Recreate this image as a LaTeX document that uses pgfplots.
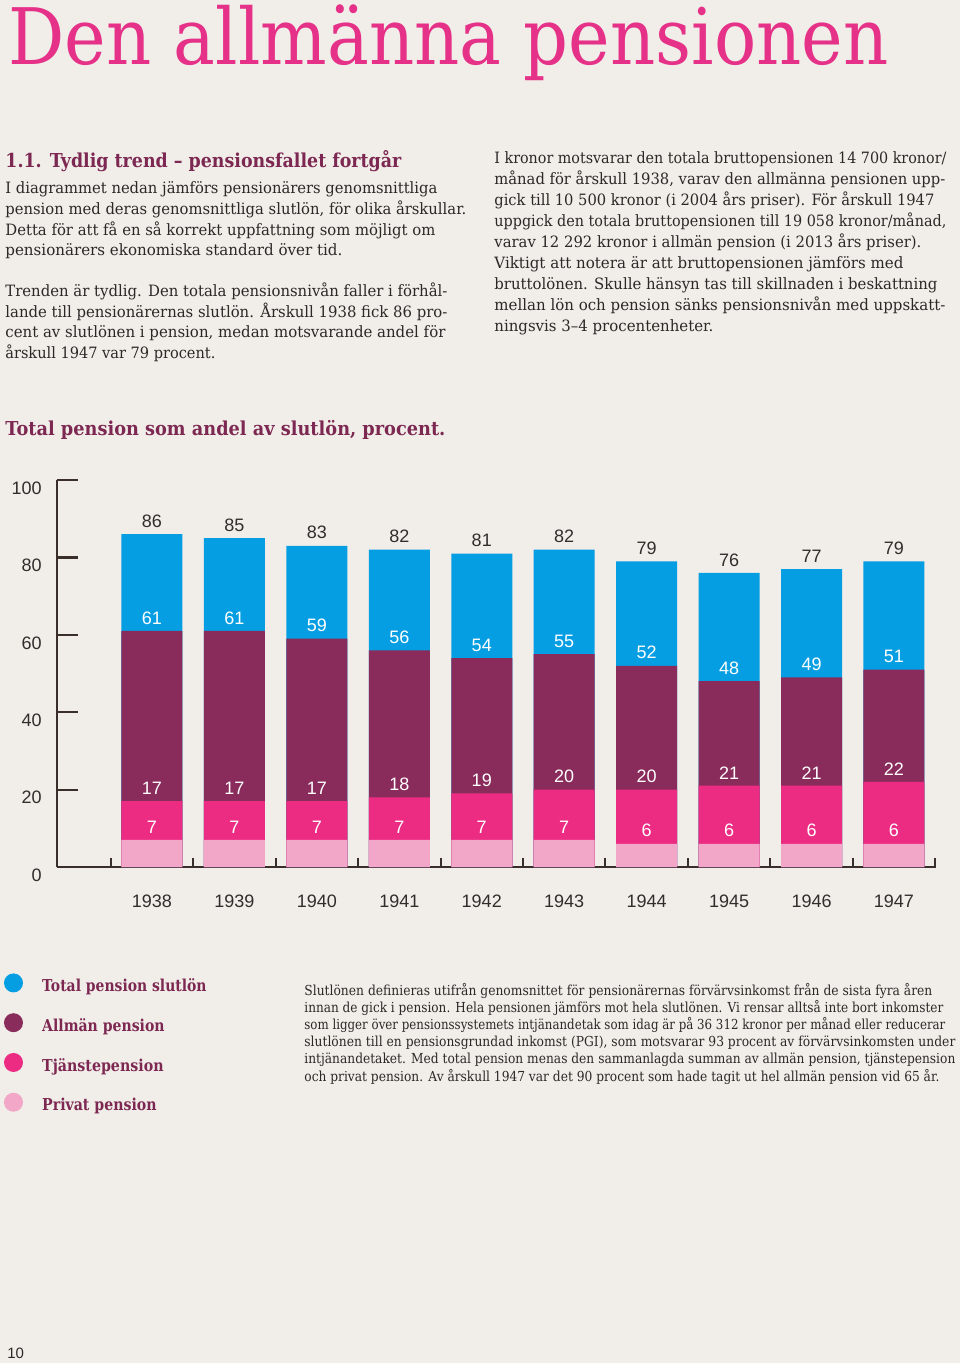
\documentclass[border=0pt]{standalone}
\usepackage{fontspec}
\usepackage{graphicx}
\usepackage{pgfplots}
\pgfplotsset{compat=1.18}
\setmainfont{DejaVu Serif}
\newfontfamily\chartfont{Liberation Sans}
\definecolor{bg}{RGB}{241,238,233}
\definecolor{titlepink}{RGB}{229,50,136}
\definecolor{headpurple}{RGB}{125,40,82}
\definecolor{bodytext}{RGB}{45,40,40}
\definecolor{cblue}{RGB}{6,158,226}
\definecolor{cpurple}{RGB}{137,43,91}
\definecolor{cpink}{RGB}{236,44,131}
\definecolor{clight}{RGB}{242,166,200}
\definecolor{axiscol}{RGB}{58,46,42}
\definecolor{numcol}{RGB}{50,45,45}
\newcommand\bodyfs{\fontsize{7.8}{8}\selectfont}
\newcommand\footfs{\fontsize{6.9}{8}\selectfont}
\newcommand\headfs{\fontsize{9.6}{10}\selectfont\bfseries}
\newcommand\legfs{\fontsize{8.2}{9}\selectfont\bfseries}
\newcommand\numfs{\chartfont\fontsize{9}{10}\selectfont}
% text line: font, colour, x start (px), baseline (px), x end (px), text
\newcommand\tl[6]{\node[anchor=base west,inner sep=0pt,text=#2,font=#1] at (#3,#4) {\resizebox{\dimexpr(#5pt-#3pt)/2\relax}{\height}{#6}};}
\newcommand\bl[4]{\tl{\bodyfs}{bodytext}{#1}{#2}{#3}{#4}}
\newcommand\fl[3]{\tl{\footfs}{bodytext}{304}{#1}{#2}{#3}}

\pgfplotstableread{
x year total allman tjanst privat
0 1938 86 61 17 7
1 1939 85 61 17 7
2 1940 83 59 17 7
3 1941 82 56 18 7
4 1942 81 54 19 7
5 1943 82 55 20 7
6 1944 79 52 20 6
7 1945 76 48 21 6
8 1946 77 49 21 6
9 1947 79 51 22 6
}\pens

\begin{document}
\begin{tikzpicture}[x=0.5pt,y=-0.5pt]
\path[use as bounding box, fill=bg] (0,0) rectangle (960,1363);

% Title
\tl{\fontsize{39}{40}\selectfont}{titlepink}{8}{65}{888}{Den allmänna pensionen}

% Section heading
\tl{\headfs}{headpurple}{5}{168}{401}{1.1. Tydlig trend – pensionsfallet fortgår}

% Left column
\bl{5}{194}{437}{I diagrammet nedan jämförs pensionärers genomsnittliga}
\bl{5}{215}{466}{pension med deras genomsnittliga slutlön, för olika årskullar.}
\bl{5}{236}{435}{Detta för att få en så korrekt uppfattning som möjligt om}
\bl{5}{256}{342}{pensionärers ekonomiska standard över tid.}
\bl{5}{297}{447}{Trenden är tydlig. Den totala pensionsnivån faller i förhål-}
\bl{5}{318}{447}{lande till pensionärernas slutlön. Årskull 1938 fick 86 pro-}
\bl{5}{338}{445}{cent av slutlönen i pension, medan motsvarande andel för}
\bl{5}{359}{215}{årskull 1947 var 79 procent.}

% Right column
\bl{494}{164}{946}{I kronor motsvarar den totala bruttopensionen 14~700 kronor/}
\bl{494}{185}{945}{månad för årskull 1938, varav den allmänna pensionen upp-}
\bl{494}{206}{934}{gick till 10~500 kronor (i 2004 års priser). För årskull 1947}
\bl{494}{227}{946}{uppgick den totala bruttopensionen till 19~058 kronor/månad,}
\bl{494}{248}{921}{varav 12~292 kronor i allmän pension (i 2013 års priser).}
\bl{494}{269}{903}{Viktigt att notera är att bruttopensionen jämförs med}
\bl{494}{290}{937}{bruttolönen. Skulle hänsyn tas till skillnaden i beskattning}
\bl{494}{311}{945}{mellan lön och pension sänks pensionsnivån med uppskatt-}
\bl{494}{332}{713}{ningsvis 3–4 procentenheter.}

% Chart heading
\tl{\headfs}{headpurple}{5}{436}{445}{Total pension som andel av slutlön, procent.}

% Footnote
\fl{995}{932}{Slutlönen definieras utifrån genomsnittet för pensionärernas förvärvsinkomst från de sista fyra åren}
\fl{1012}{943}{innan de gick i pension. Hela pensionen jämförs mot hela slutlönen. Vi rensar alltså inte bort inkomster}
\fl{1029}{945}{som ligger över pensionssystemets intjänandetak som idag är på 36~312 kronor per månad eller reducerar}
\fl{1046}{955}{slutlönen till en pensionsgrundad inkomst (PGI), som motsvarar 93 procent av förvärvsinkomsten under}
\fl{1063}{955}{intjänandetaket. Med total pension menas den sammanlagda summan av allmän pension, tjänstepension}
\fl{1081}{939}{och privat pension. Av årskull 1947 var det 90 procent som hade tagit ut hel allmän pension vid 65 år.}

% Page number
\node[anchor=base west,inner sep=0pt,text=bodytext,font=\chartfont\fontsize{7.5}{8}\selectfont] at (7,1358) {10};

\begin{axis}[
  at={(28.5pt,-433.5pt)}, anchor=south west,
  scale only axis, width=439.5pt, height=193.5pt,
  xmin=-1.152, xmax=9.51, ymin=0, ymax=100,
  clip=false,
  axis x line=bottom, axis y line=left,
  axis line style={-, line width=1.2pt, color=axiscol},
  ytick={0,20,...,100},
  tick align=inside, major tick length=10.5pt,
  ytick style={line width=1.1pt, color=axiscol},
  xtick={0,...,9},
  xticklabels={1938,1939,1940,1941,1942,1943,1944,1945,1946,1947},
  xtick style={draw=none},
  /pgf/number format/assume math mode=true,
  yticklabel style={font=\numfs, text=numcol, anchor=east, inner sep=0pt, xshift=-7.5pt, yshift=-4pt},
  xticklabel style={font=\numfs, text=numcol, anchor=north, inner sep=0pt, yshift=-3.25pt},
  ybar, bar width=30.5pt,
  nodes near coords,
  every node near coord/.append style={font=\numfs, anchor=center, yshift=6.5pt, inner sep=0pt},
  legend style={at={(axis description cs:-0.0603,-0.275)}, anchor=north west,
    draw=none, fill=none, inner sep=0pt, outer sep=0pt,
    row sep=9.15pt, font=\legfs, text=headpurple,
    nodes={inner sep=0pt},
    /tikz/every odd column/.append style={column sep=9.6pt}},
  legend cell align=left,
]
\addplot[fill=cblue, draw=none, bar shift=0pt,
  every node near coord/.append style={text=numcol},
  legend image code/.code={\fill[cblue] (0pt,2pt) circle (4.75pt);}]
  table[x=x, y=total] {\pens};
\addplot[fill=cpurple, draw=none, bar shift=0pt,
  every node near coord/.append style={text=white},
  legend image code/.code={\fill[cpurple] (0pt,2pt) circle (4.75pt);}]
  table[x=x, y=allman] {\pens};
\addplot[fill=cpink, draw=none, bar shift=0pt,
  every node near coord/.append style={text=white},
  legend image code/.code={\fill[cpink] (0pt,2pt) circle (4.75pt);}]
  table[x=x, y=tjanst] {\pens};
\addplot[fill=clight, draw=none, bar shift=0pt,
  every node near coord/.append style={text=white},
  legend image code/.code={\fill[clight] (0pt,2pt) circle (4.75pt);}]
  table[x=x, y=privat] {\pens};
\addlegendentry{\resizebox{82.2pt}{\height}{Total pension slutlön}}
\addlegendentry{\resizebox{61.2pt}{\height}{Allmän pension}}
\addlegendentry{\resizebox{60.7pt}{\height}{Tjänstepension}}
\addlegendentry{\resizebox{57.2pt}{\height}{Privat pension}}
\pgfplotsinvokeforeach{-0.5,0.5,1.5,2.5,3.5,4.5,5.5,6.5,7.5,8.5,9.5}{
  \draw[axiscol, line width=1pt] (axis cs:#1,0) -- ([yshift=4.5pt]axis cs:#1,0);
}
\end{axis}
\end{tikzpicture}
\end{document}
